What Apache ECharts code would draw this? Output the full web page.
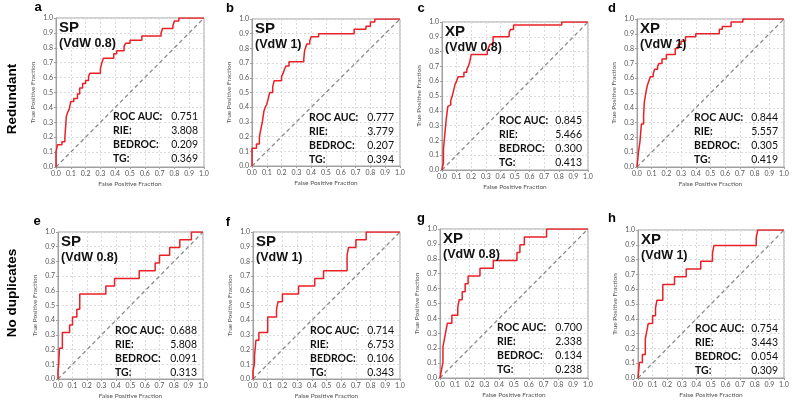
<!DOCTYPE html>
<html>
<head>
<meta charset="utf-8">
<script src="https://cdn.jsdelivr.net/npm/echarts@6/dist/echarts.min.js"></script>
<style>
html,body{margin:0;padding:0;background:#fff;}
#chart{width:794px;height:406px;}
</style>
</head>
<body>
<div id="chart"></div>
<script>
// ---- Data ----
var panelLetters = ['a','b','c','d','e','f','g','h'];
var rowLabels = ['Redundant', 'No duplicates'];
var methods = ['SP','SP','XP','XP','SP','SP','XP','XP'];
var vdwLabels = ['(VdW 0.8)','(VdW 1)','(VdW 0.8)','(VdW 1)','(VdW 0.8)','(VdW 1)','(VdW 0.8)','(VdW 1)'];
var statNames = ['ROC AUC:', 'RIE:', 'BEDROC:', 'TG:'];
var rocAuc = ['0.751','0.777','0.845','0.844','0.688','0.714','0.700','0.754'];
var rie    = ['3.808','3.779','5.466','5.557','5.808','6.753','2.338','3.443'];
var bedroc = ['0.209','0.207','0.300','0.305','0.091','0.106','0.134','0.054'];
var tg     = ['0.369','0.394','0.413','0.419','0.313','0.343','0.238','0.309'];
var tickValues = [0,0.1,0.2,0.3,0.4,0.5,0.6,0.7,0.8,0.9,1.0];

// ROC curves: at fpr[i] the tpr steps up to tpr[i]
var fprA = [0, 0, 0.01, 0.04, 0.06, 0.07, 0.08, 0.09, 0.10, 0.12, 0.145, 0.16, 0.18, 0.20, 0.22, 0.23, 0.30, 0.31, 0.32, 0.39, 0.41, 0.46, 0.47, 0.50, 0.58, 0.71, 0.72, 0.79, 0.80, 0.83, 1.0];
var tprA = [0, 0.10, 0.15, 0.17, 0.20, 0.34, 0.37, 0.39, 0.44, 0.46, 0.49, 0.53, 0.56, 0.58, 0.61, 0.63, 0.66, 0.70, 0.73, 0.76, 0.78, 0.81, 0.83, 0.85, 0.88, 0.90, 0.93, 0.95, 0.98, 1.0, 1.0];
var fprB = [0, 0, 0.03, 0.05, 0.06, 0.07, 0.08, 0.09, 0.10, 0.11, 0.12, 0.14, 0.15, 0.20, 0.21, 0.22, 0.23, 0.25, 0.35, 0.355, 0.36, 0.37, 0.39, 0.40, 0.45, 0.69, 0.77, 0.80, 0.83, 1.0];
var tprB = [0, 0.12, 0.15, 0.20, 0.25, 0.30, 0.37, 0.40, 0.42, 0.46, 0.50, 0.54, 0.58, 0.61, 0.63, 0.66, 0.68, 0.71, 0.73, 0.78, 0.80, 0.83, 0.85, 0.88, 0.90, 0.93, 0.95, 0.98, 1.0, 1.0];
var fprC = [0, 0.01, 0.01, 0.02, 0.03, 0.04, 0.05, 0.06, 0.07, 0.08, 0.09, 0.10, 0.11, 0.15, 0.17, 0.18, 0.19, 0.20, 0.31, 0.32, 0.33, 0.35, 0.46, 0.47, 0.49, 0.82, 1.0];
var tprC = [0, 0.05, 0.14, 0.25, 0.35, 0.43, 0.44, 0.47, 0.50, 0.54, 0.58, 0.60, 0.63, 0.66, 0.68, 0.70, 0.73, 0.78, 0.80, 0.83, 0.85, 0.90, 0.93, 0.95, 0.98, 1.0, 1.0];
var fprD = [0, 0.01, 0.02, 0.03, 0.04, 0.045, 0.05, 0.06, 0.07, 0.08, 0.09, 0.11, 0.12, 0.14, 0.15, 0.17, 0.20, 0.26, 0.28, 0.30, 0.33, 0.40, 0.56, 0.58, 0.64, 0.72, 1.0];
var tprD = [0, 0.10, 0.17, 0.29, 0.29, 0.35, 0.44, 0.50, 0.55, 0.58, 0.61, 0.63, 0.66, 0.68, 0.70, 0.73, 0.76, 0.80, 0.83, 0.85, 0.88, 0.90, 0.93, 0.95, 0.98, 1.0, 1.0];
var fprE = [0, 0, 0.005, 0.01, 0.03, 0.08, 0.10, 0.13, 0.15, 0.15, 0.33, 0.39, 0.56, 0.67, 0.70, 0.77, 0.84, 0.92, 1.0];
var tprE = [0, 0.053, 0.105, 0.21, 0.316, 0.368, 0.421, 0.474, 0.526, 0.579, 0.632, 0.684, 0.737, 0.789, 0.842, 0.895, 0.947, 1.0, 1.0];
var fprF = [0, 0, 0.01, 0.01, 0.02, 0.04, 0.10, 0.10, 0.16, 0.17, 0.20, 0.31, 0.42, 0.48, 0.64, 0.65, 0.70, 0.77, 1.0];
var tprF = [0, 0.053, 0.105, 0.158, 0.263, 0.316, 0.368, 0.421, 0.474, 0.526, 0.579, 0.632, 0.684, 0.737, 0.842, 0.895, 0.947, 1.0, 1.0];
var fprG = [0, 0.01, 0.02, 0.02, 0.03, 0.04, 0.05, 0.08, 0.12, 0.13, 0.15, 0.17, 0.19, 0.27, 0.36, 0.52, 0.54, 0.57, 0.72, 1.0];
var tprG = [0, 0.053, 0.105, 0.21, 0.263, 0.316, 0.368, 0.421, 0.474, 0.526, 0.579, 0.632, 0.684, 0.737, 0.789, 0.842, 0.895, 0.947, 1.0, 1.0];
var fprH = [0, 0.005, 0.01, 0.03, 0.05, 0.06, 0.07, 0.10, 0.12, 0.13, 0.17, 0.25, 0.33, 0.43, 0.51, 0.52, 0.81, 0.82, 1.0];
var tprH = [0, 0.053, 0.105, 0.158, 0.263, 0.316, 0.368, 0.421, 0.474, 0.526, 0.632, 0.684, 0.737, 0.789, 0.842, 0.895, 0.947, 1.0, 1.0];
var diagX = [0, 1];
var diagY = [0, 1];

var fprs = [fprA, fprB, fprC, fprD, fprE, fprF, fprG, fprH];
var tprs = [tprA, tprB, tprC, tprD, tprE, tprF, tprG, tprH];

// ---- Layout ----
var boxes = [
  {left:56, top:18, w:148, h:149},
  {left:252, top:19, w:148, h:147},
  {left:442, top:22, w:146, h:148},
  {left:637, top:19, w:147, h:148},
  {left:58, top:232, w:145, h:147},
  {left:253, top:232, w:147, h:147},
  {left:440, top:229, w:148, h:149},
  {left:638, top:230, w:146, h:148}
];
var letterPos = [[38,7],[230,8],[421,8],[612,8],[37,221],[228,222],[421,218],[612,218]];
var rowLabelPos = [[12,99],[12,293]];

function zip(xs, ys){ return xs.map(function(x,i){ return [x, ys[i]]; }); }

var grid = [], xAxis = [], yAxis = [], series = [], graphic = [];
var axisFont = 'Lato, "Open Sans", sans-serif';
boxes.forEach(function(b, i){
  grid.push({left:b.left, top:b.top, width:b.w, height:b.h, show:true, borderColor:'#a0a0a0', borderWidth:1, containLabel:false});
  var common = {
    type:'value', min:0, max:1, interval:0.1, gridIndex:i,
    axisLine:{show:true, lineStyle:{color:'#a0a0a0', width:1}},
    axisTick:{show:true, length:2, lineStyle:{color:'#a0a0a0'}},
    splitLine:{show:true, lineStyle:{color:'#dcdcdc', type:[2,2], width:1}},
    nameLocation:'middle',
    nameTextStyle:{fontSize:6.5, color:'#555', fontFamily:axisFont}
  };
  xAxis.push(Object.assign({}, common, {
    name:'False Positive Fraction', nameGap:13,
    axisLabel:{fontSize:7, color:'#555', margin:3, fontFamily:axisFont, formatter:function(v){return v.toFixed(1);}}
  }));
  yAxis.push(Object.assign({}, common, {
    name:'True Positive Fraction', nameGap:20,
    axisLabel:{fontSize:7, color:'#555', margin:3, fontFamily:axisFont, formatter:function(v){return v.toFixed(1);}}
  }));
  series.push({
    type:'line', xAxisIndex:i, yAxisIndex:i, data:zip(diagX, diagY), symbol:'none', silent:true,
    lineStyle:{color:'#8a8a8a', width:1.3, type:[4,3]}, z:2
  });
  series.push({
    type:'line', xAxisIndex:i, yAxisIndex:i, data:zip(fprs[i], tprs[i]), step:'end', symbol:'none',
    lineStyle:{color:'#ea2027', width:1.5}, z:3
  });
  // Titles inside plot
  graphic.push({type:'text', x:b.left+3, y:b.top+10, z:10, style:{text:methods[i], font:'bold 15px Arial, "Liberation Sans", sans-serif', fill:'#111', verticalAlign:'middle', align:'left'}});
  graphic.push({type:'text', x:b.left+3, y:b.top+26, z:10, style:{text:vdwLabels[i], font:'bold 12.5px Arial, "Liberation Sans", sans-serif', fill:'#111', verticalAlign:'middle', align:'left'}});
  var vals = [rocAuc[i], rie[i], bedroc[i], tg[i]];
  var offs = [99, 113, 127, 141];
  statNames.forEach(function(s, k){
    graphic.push({type:'text', x:b.left+57, y:b.top+offs[k], z:10, style:{text:s, font:'bold 10.5px Lato, "Open Sans", sans-serif', fill:'#111', verticalAlign:'middle', align:'left'}});
    graphic.push({type:'text', x:b.left+b.w-6, y:b.top+offs[k], z:10, style:{text:vals[k], font:'10.5px Lato, "Open Sans", sans-serif', fill:'#111', verticalAlign:'middle', align:'right'}});
  });
  graphic.push({type:'text', x:letterPos[i][0], y:letterPos[i][1], z:10, style:{text:panelLetters[i], font:'bold 13px Arial, "Liberation Sans", sans-serif', fill:'#000', verticalAlign:'middle', align:'center'}});
});
rowLabels.forEach(function(t, r){
  graphic.push({type:'text', x:rowLabelPos[r][0], y:rowLabelPos[r][1], rotation:Math.PI/2, z:10,
    style:{text:t, font:'bold 13.5px Arial, "Liberation Sans", sans-serif', fill:'#000', verticalAlign:'middle', align:'center'}});
});

var chart = echarts.init(document.getElementById('chart'), null, {renderer:'canvas'});
chart.setOption({
  animation:false,
  backgroundColor:'#fff',
  grid:grid, xAxis:xAxis, yAxis:yAxis, series:series, graphic:graphic
});
</script>
</body>
</html>
